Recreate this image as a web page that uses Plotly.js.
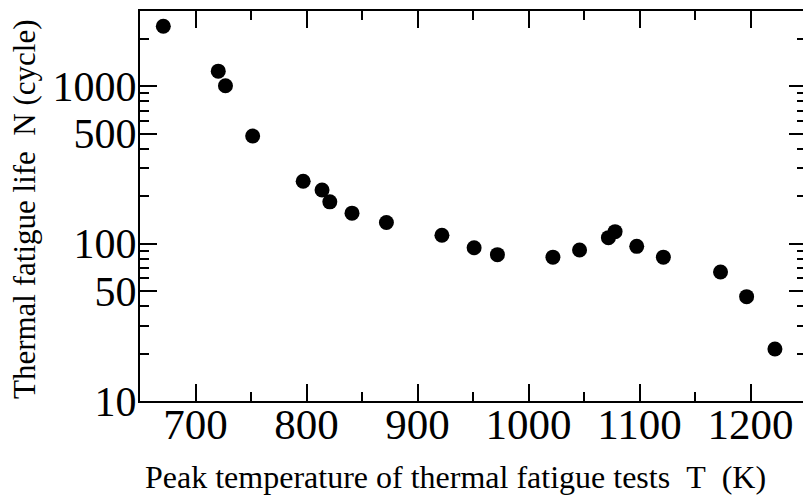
<!DOCTYPE html>
<html>
<head>
<meta charset="utf-8">
<script src="https://cdn.plot.ly/plotly-3.0.1.min.js"></script>
<style>
html, body { margin: 0; padding: 0; overflow: hidden; background: #fff; }
#chart { width: 809px; height: 496px; }
</style>
</head>
<body>
<div id="chart"></div>
<script>
// Peak temperature T (K)
const temperatures = [671, 720.5, 727, 751.5, 797, 814, 821, 841, 872, 922, 951, 972, 1022, 1046, 1072, 1078, 1097.5, 1121.5, 1173, 1196.5, 1222];
// Thermal fatigue life N (cycle)
const cycles = [2400, 1245, 1005, 482, 249, 219, 184, 156, 136, 113, 94, 85, 82, 91, 109, 119, 96, 82, 66, 46, 21.4];

const xMajorTicks = [700, 800, 900, 1000, 1100, 1200];
const xMinorTicks = [750, 850, 950, 1050, 1150];
const yMajorTicks = [10, 50, 100, 500, 1000];
const yMajorLabels = ['10', '50', '100', '500', '1000'];
const yMinorTicks = [20, 30, 40, 60, 70, 80, 90, 200, 300, 400, 600, 700, 800, 900, 2000];
const xTitle = 'Peak temperature of thermal fatigue tests\u00A0\u00A0T\u00A0\u00A0(K)';
const yTitle = 'Thermal fatigue life\u00A0\u00A0N (cycle)';

const font = 'Liberation Serif';

const trace = {
  x: temperatures,
  y: cycles,
  type: 'scatter',
  mode: 'markers',
  marker: { color: '#000', size: 15, line: { width: 0 } },
  showlegend: false
};

const layout = {
  width: 809,
  height: 496,
  margin: { l: 140, r: 3, t: 11, b: 95 },
  paper_bgcolor: '#fff',
  plot_bgcolor: '#fff',
  font: { family: font, color: '#000' },
  xaxis: {
    range: [650, 1250],
    tickmode: 'array',
    tickvals: xMajorTicks,
    ticktext: xMajorTicks.map(String),
    ticks: 'inside',
    ticklen: 17,
    tickwidth: 2,
    tickcolor: '#000',
    ticklabelstandoff: -16,
    showline: true,
    linewidth: 2,
    linecolor: '#000',
    mirror: 'ticks',
    showgrid: false,
    zeroline: false,
    tickfont: { family: font, size: 43, color: '#000' },
    minor: { tickmode: 'array', tickvals: xMinorTicks, ticks: 'inside', ticklen: 9, tickwidth: 2, tickcolor: '#000', showgrid: false },
    automargin: false
  },
  yaxis: {
    type: 'log',
    range: [1, Math.log10(3000)],
    tickmode: 'array',
    tickvals: yMajorTicks,
    ticktext: yMajorLabels,
    ticks: 'inside',
    ticklen: 17,
    tickwidth: 2,
    tickcolor: '#000',
    ticklabelstandoff: -7,
    showline: true,
    linewidth: 2,
    linecolor: '#000',
    mirror: 'ticks',
    showgrid: false,
    zeroline: false,
    tickfont: { family: font, size: 42, color: '#000' },
    minor: { tickmode: 'array', tickvals: yMinorTicks, ticks: 'inside', ticklen: 9, tickwidth: 2, tickcolor: '#000', showgrid: false },
    automargin: false
  },
  annotations: [
    { text: xTitle, xref: 'paper', yref: 'paper', x: 0.4737, y: -0.1949, xanchor: 'center', yanchor: 'middle', showarrow: false, font: { family: font, size: 32, color: '#000' } },
    { text: yTitle, xref: 'paper', yref: 'paper', x: -0.1734, y: 0.491, xanchor: 'center', yanchor: 'middle', textangle: -90, showarrow: false, font: { family: font, size: 31, color: '#000' } }
  ]
};

Plotly.newPlot('chart', [trace], layout, { displayModeBar: false, staticPlot: true });
</script>
</body>
</html>
